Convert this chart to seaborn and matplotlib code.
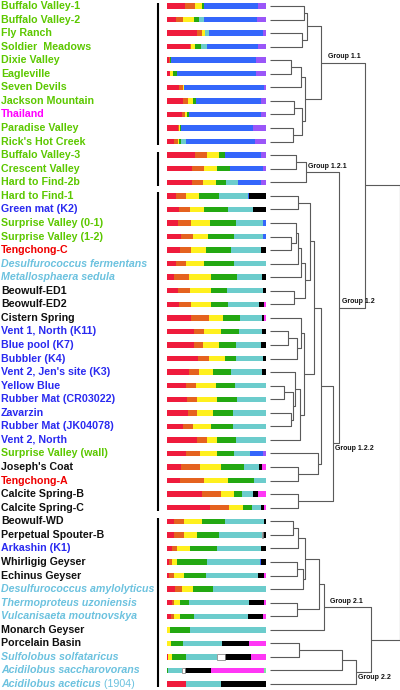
import matplotlib
matplotlib.use("Agg")
import matplotlib.pyplot as plt
import matplotlib.transforms as mtransforms
import pandas as pd
import seaborn as sns

# Samples, top to bottom
samples = [
    "Buffalo Valley-1", "Buffalo Valley-2", "Fly Ranch", "Soldier  Meadows", "Dixie Valley",
    "Eagleville", "Seven Devils", "Jackson Mountain", "Thailand", "Paradise Valley",
    "Rick's Hot Creek", "Buffalo Valley-3", "Crescent Valley", "Hard to Find-2b", "Hard to Find-1",
    "Green mat (K2)", "Surprise Valley (0-1)", "Surprise Valley (1-2)", "Tengchong-C",
    "Desulfurococcus fermentans", "Metallosphaera sedula", "Beowulf-ED1", "Beowulf-ED2",
    "Cistern Spring", "Vent 1, North (K11)", "Blue pool (K7)", "Bubbler (K4)",
    "Vent 2, Jen's site (K3)", "Yellow Blue", "Rubber Mat (CR03022)", "Zavarzin",
    "Rubber Mat (JK04078)", "Vent 2, North", "Surprise Valley (wall)", "Joseph's Coat",
    "Tengchong-A", "Calcite Spring-B", "Calcite Spring-C", "Beowulf-WD", "Perpetual Spouter-B",
    "Arkashin (K1)", "Whirligig Geyser", "Echinus Geyser", "Desulfurococcus amylolyticus",
    "Thermoproteus uzoniensis", "Vulcanisaeta moutnovskya", "Monarch Geyser", "Porcelain Basin",
    "Sulfolobus solfataricus", "Acidilobus saccharovorans", "Acidilobus aceticus",
]
# origin of each sample (sets label colour)
origin = (["GB"] * 8 + ["TH"] + ["GB"] * 6 + ["KA"] + ["GB"] * 2 + ["CN"] + ["cult"] * 2
          + ["YNP"] * 3 + ["KA"] * 9 + ["GB"] + ["YNP"] + ["CN"] + ["YNP"] * 4 + ["KA"]
          + ["YNP"] * 2 + ["cult"] * 3 + ["YNP"] * 2 + ["cult"] * 3)
label_suffix = {50: " (1904)"}

# composition (% of each sample), left to right
seg_red = [17.8, 9.4, 30.2, 22.8, 2.3, 2.7, 12.4, 16.1, 15.1, 10.7,
           7.4, 28.5, 25.5, 25.5, 9.1, 12.4, 10.7, 14.4, 12.8, 9.1,
           6.7, 11.1, 12.4, 24.2, 26.8, 26.8, 30.9, 21.8, 19.1, 20.1,
           21.1, 16.1, 30.2, 18.8, 14.1, 13.4, 35.6, 43.0, 6.7, 7.4,
           5.0, 1.7, 2.3, 8.4, 5.4, 4.0, 0, 0, 1.3, 0, 19.5]
seg_orange = [10.7, 6.4, 5.0, 1.7, 0.7, 0, 3.7, 5.0, 3.4, 1.0,
              3.4, 11.7, 12.1, 10.7, 10.4, 11.1, 13.8, 11.4, 11.7, 10.1,
              15.1, 11.7, 11.7, 18.5, 10.7, 9.4, 11.7, 10.7, 10.4, 10.1,
              9.1, 10.1, 10.1, 14.1, 19.5, 24.2, 19.1, 20.1, 10.7, 10.1,
              5.0, 3.4, 4.4, 6.7, 2.0, 3.4, 0, 0, 0, 0, 0]
seg_yellow = [6.7, 11.1, 3.4, 4.0, 0, 3.4, 1.3, 5.0, 1.7, 1.0,
              1.7, 12.8, 12.8, 12.8, 12.8, 14.1, 19.1, 16.1, 15.1, 18.5,
              22.5, 21.5, 20.1, 13.8, 16.8, 16.1, 16.4, 14.4, 20.1, 20.1,
              15.8, 18.1, 10.7, 18.1, 20.8, 24.5, 13.1, 13.4, 18.1, 12.8,
              12.8, 5.0, 10.1, 11.1, 6.0, 6.0, 2.7, 4.0, 3.7, 0, 0]
seg_green = [1.7, 5.0, 0, 5.7, 1.0, 4.0, 0, 3.0, 2.3, 1.3,
             2.0, 5.7, 13.4, 10.1, 19.8, 24.5, 25.8, 25.8, 24.8, 30.2,
             26.2, 16.1, 17.8, 17.4, 18.1, 17.1, 10.7, 17.4, 19.1, 20.1,
             21.1, 22.1, 18.8, 17.1, 23.5, 25.8, 8.4, 9.4, 23.5, 21.8,
             28.2, 30.2, 22.8, 19.8, 8.4, 14.1, 20.1, 12.1, 14.1, 0.7, 0]
seg_cyan = [0, 5.7, 3.4, 6.0, 0, 0, 0, 0, 0, 0,
            4.7, 0, 0, 12.8, 29.5, 24.5, 27.9, 29.5, 30.5, 32.1,
            25.2, 36.9, 30.5, 21.8, 23.2, 25.2, 27.5, 31.2, 31.3, 29.6,
            32.9, 33.6, 30.2, 15.8, 14.8, 12.1, 10.4, 9.4, 39.0, 43.6,
            44.3, 53.7, 52.0, 54.0, 61.4, 54.0, 77.2, 39.9, 31.2, 14.4, 34.9]
seg_blue = [55.4, 53.7, 54.7, 52.0, 86.0, 79.9, 80.5, 65.4, 72.8, 73.2,
            69.8, 35.9, 32.9, 23.5, 1.7, 0, 2.7, 2.7, 0, 0,
            0, 0, 0, 0, 0, 0, 0, 0, 0, 0,
            0, 0, 0, 13.4, 0, 0, 0, 0, 0, 0,
            0, 1.0, 0, 0, 0, 0, 0, 0, 0, 0, 0]
seg_purple = [7.7, 8.7, 3.3, 7.7, 10.0, 10.0, 2.0, 5.4, 4.7, 12.8,
              11.0, 5.4, 3.3, 4.7, 0, 0, 0, 0, 0, 0,
              0, 0, 0, 0, 0, 0, 0, 0, 0, 0,
              0, 0, 0, 2.7, 0, 0, 0, 0, 0, 0,
              0, 0, 0, 0, 0, 0, 0, 0, 0, 0, 0]
seg_white = [0] * 39 + [1.7] + [0] * 8 + [8.7, 2.7, 0]
seg_black = [0, 0, 0, 0, 0, 0, 0, 0, 0, 0,
             0, 0, 0, 0, 16.8, 13.4, 0, 0, 5.0, 0,
             4.4, 2.7, 5.4, 2.3, 4.4, 5.4, 2.7, 4.4, 0, 0,
             0, 0, 0, 0, 3.0, 0, 5.7, 2.7, 2.0, 2.6,
             4.7, 5.0, 6.4, 0, 14.8, 15.8, 0, 26.6, 26.2, 26.8, 45.6]
seg_magenta = [0] * 22 + [2.0, 2.0] + [0] * 10 + [4.3, 0, 7.7, 2.0] + [0] * 4 + [2.0, 0, 2.0, 2.7, 0, 17.4, 14.8, 53.4, 0]
seg_lime = [0] * 49 + [2.0, 0]

# dendrogram merges: (child, child, height); ids >= len(samples) are earlier merges
merges = [
    (0, 1, 34), (2, 3, 32), (51, 52, 37), (4, 5, 21), (54, 6, 31), (7, 8, 24), (9, 10, 23),
    (56, 57, 32), (55, 58, 35), (53, 59, 51),
    (11, 12, 26), (61, 13, 36),
    (14, 15, 28), (17, 18, 21), (16, 64, 26), (65, 19, 27.5), (66, 20, 31), (21, 22, 23.5),
    (67, 68, 35), (63, 69, 40), (24, 25, 18), (71, 26, 26.5), (23, 72, 30.5), (28, 29, 13.5),
    (30, 31, 21), (74, 75, 22.5), (27, 76, 25), (77, 32, 30), (73, 78, 33.5), (70, 79, 44),
    (34, 35, 28.3), (33, 81, 48.3), (80, 82, 50.5), (36, 37, 28.3), (83, 84, 63.3),
    (62, 85, 69.3), (60, 86, 95),
    (38, 39, 22.7), (88, 40, 28.3), (41, 42, 26.7), (90, 43, 32.7), (89, 91, 35), (44, 45, 26.7),
    (92, 93, 49), (94, 46, 54.3), (47, 48, 29.3), (96, 49, 72.3), (97, 50, 85.7), (95, 98, 101),
    (87, 99, 129.5),
]
group_names = ["Group 1.1", "Group 1.2.1", "Group 1.2", "Group 1.2.2", "Group 2.1", "Group 2.2"]
group_nodes = [60, 62, 86, 85, 95, 98]
# blocks marked by the black bars left of the composition bars
block_first = [0, 11, 14, 38]
block_last = [10, 13, 37, 50]

# styles
seg_names = ["red", "orange", "yellow", "green", "cyan", "blue", "purple", "white", "black", "magenta", "lime"]
seg_colors = ["#ef1b3c", "#e5621f", "#fff01e", "#23a812", "#6ccccc", "#3466fb", "#9a56f8",
              "#ffffff", "#000000", "#ff36f5", "#7ee8a0"]
origin_colors = {"GB": "#5cc800", "TH": "#ff00ff", "KA": "#2a2af0", "CN": "#f00000",
                 "YNP": "#111111", "cult": "#6cc2df"}
group_dx = [7, 1.7, 2.7, 1.7, 5.7, 2.3]
group_above = [True, True, True, False, True, False]
label_size = 7.7

sns.set_theme(style="white")
plt.rcParams["font.family"] = ["Liberation Sans", "DejaVu Sans"]

df = pd.DataFrame({"sample": samples})
for name, vals in zip(seg_names, [seg_red, seg_orange, seg_yellow, seg_green, seg_cyan, seg_blue,
                                  seg_purple, seg_white, seg_black, seg_magenta, seg_lime]):
    df[name] = vals
cum = df[seg_names].cumsum(axis=1)

W, H = 400, 690
fig = plt.figure(figsize=(W / 100, H / 100), dpi=100)
ylim = (50.44, -0.44)

# stacked bars: draw cumulative totals from the right-most segment down
ax = fig.add_axes([167 / W, 0, 99 / W, 1])
for name, col in reversed(list(zip(seg_names, seg_colors))):
    sns.barplot(x=cum[name], y=df["sample"], order=samples, color=col, orient="h",
                width=0.4, saturation=1, linewidth=0, ax=ax)
for i in range(len(samples)):
    if seg_white[i] > 0:
        ax.barh(i, seg_white[i], left=cum["white"][i] - seg_white[i], height=0.4,
                fill=False, edgecolor="#8a8a8a", linewidth=0.6)
ax.set_xlim(0, 100)
ax.set_ylim(*ylim)
ax.axis("off")

# sample labels and block bars
tr = mtransforms.blended_transform_factory(fig.transFigure, ax.transData)
for i, s in enumerate(samples):
    cult = origin[i] == "cult"
    t = ax.text(1 / W, i, s, transform=tr, ha="left", va="center", fontsize=label_size,
                fontweight="bold", fontstyle="italic" if cult else "normal",
                color=origin_colors[origin[i]])
    if i in label_suffix:
        ax.annotate(label_suffix[i], xy=(1, 0.5), xycoords=t, ha="left", va="center",
                    fontsize=label_size, color=origin_colors[origin[i]])
for a, b in zip(block_first, block_last):
    ax.plot([158 / W, 158 / W], [a - 0.25, min(b + 0.25, ylim[0])], transform=tr,
            color="black", lw=1.5, clip_on=False, solid_capstyle="butt")

# dendrogram
axd = fig.add_axes([270 / W, 0, 130 / W, 1])
n = len(samples)
nx = {i: 0.0 for i in range(n)}
ny = {i: float(i) for i in range(n)}
for k, (a, b, h) in enumerate(merges):
    axd.plot([nx[a], h, h, nx[b]], [ny[a], ny[a], ny[b], ny[b]], color="#5a5a5a", lw=0.8,
             clip_on=False, solid_capstyle="butt")
    nx[n + k] = h
    ny[n + k] = (ny[a] + ny[b]) / 2
for g, node, dx, up in zip(group_names, group_nodes, group_dx, group_above):
    axd.text(nx[node] + dx, ny[node] + (-0.43 if up else 0.37), g, ha="left", va="center",
             fontsize=5, fontweight="bold", color="#111111")
axd.set_xlim(0, 130)
axd.set_ylim(*ylim)
axd.axis("off")

fig.savefig("out.png", dpi=100)
